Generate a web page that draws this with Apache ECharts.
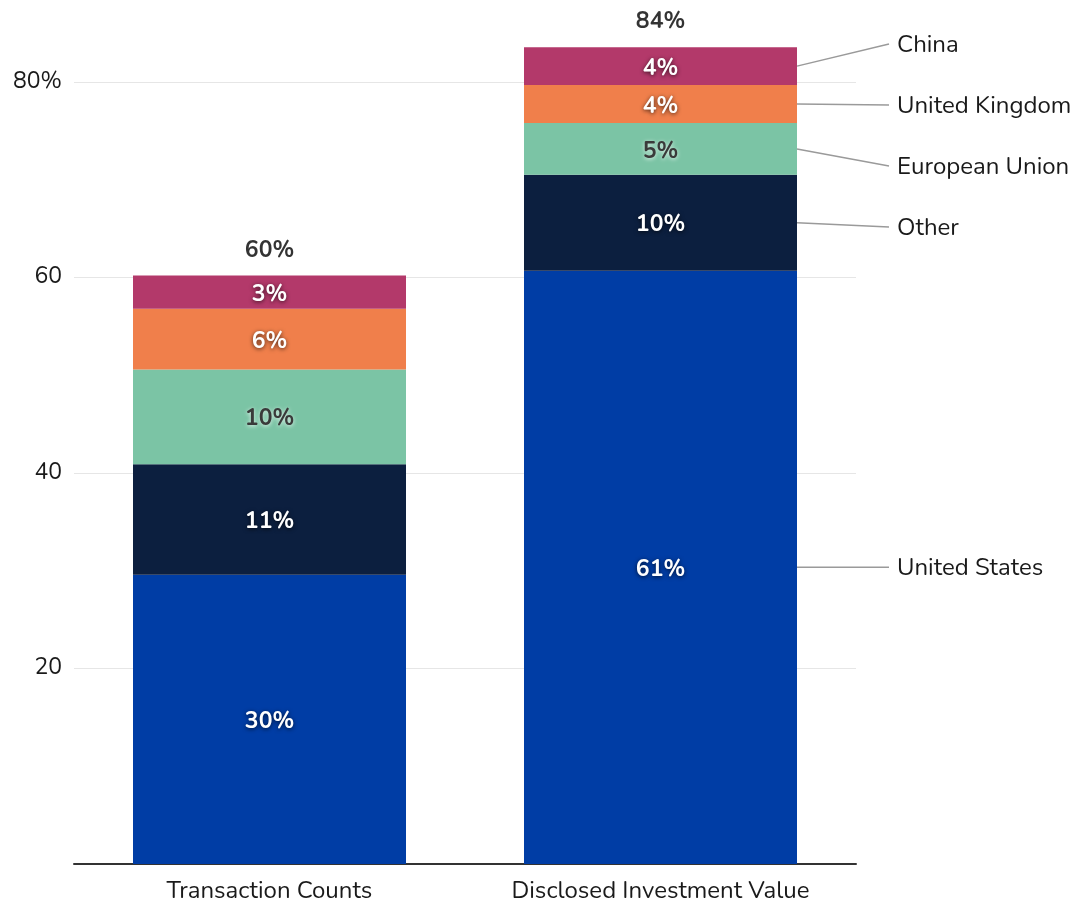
<!DOCTYPE html>
<html>
<head>
<meta charset="utf-8">
<title>Stacked shares by region</title>
<script src="https://cdn.jsdelivr.net/npm/echarts@6/dist/echarts.min.js"></script>
<style>
  html, body { margin: 0; padding: 0; background: #ffffff; }
  #chart { width: 1072px; height: 905px; }
</style>
</head>
<body>
<div id="chart"></div>
<script>
// Categories along the x axis
const categories = ['Transaction Counts', 'Disclosed Investment Value'];

// Region shares (percent), stacked bottom to top
const regionNames = ['United States', 'Other', 'European Union', 'United Kingdom', 'China'];
const unitedStates = [29.6, 60.7];
const other = [11.3, 9.8];
const europeanUnion = [9.7, 5.3];
const unitedKingdom = [6.2, 3.9];
const china = [3.4, 3.85];

// Y axis ticks
const yTickMin = 0;
const yTickMax = 80;
const yTickStep = 20;

const regionValues = [unitedStates, other, europeanUnion, unitedKingdom, china];
const regionColors = ['#003da5', '#0c1f3f', '#7bc4a5', '#f07f4b', '#b3396a'];
const labelColors = ['#ffffff', '#ffffff', '#3a3a3a', '#ffffff', '#ffffff'];
const shadowColors = ['rgba(0,0,0,0.7)', 'rgba(0,0,0,0.7)', 'rgba(255,255,255,0.8)', 'rgba(0,0,0,0.7)', 'rgba(0,0,0,0.7)'];

const FONT = "'Nunito', 'Open Sans', 'Noto Sans', sans-serif";
const FONT_SIZE = 23;
const NAME_FONT_SIZE = 24;
const BAR_WIDTH = 273;

const totals = categories.map((_, i) => regionValues.reduce((s, arr) => s + arr[i], 0));

const chart = echarts.init(document.getElementById('chart'), null, { renderer: 'canvas' });

const barSeries = regionNames.map((name, k) => ({
  name: name,
  type: 'bar',
  stack: 'share',
  barWidth: BAR_WIDTH,
  clip: false,
  data: regionValues[k],
  itemStyle: { color: regionColors[k] },
  label: {
    show: true,
    position: 'inside',
    offset: [0, 3],
    formatter: p => Math.round(p.value) + '%',
    color: labelColors[k],
    fontFamily: FONT,
    fontWeight: 'bold',
    fontSize: FONT_SIZE,
    textShadowColor: shadowColors[k],
    textShadowBlur: 4,
    textShadowOffsetX: 0,
    textShadowOffsetY: 1
  },
  emphasis: { disabled: true }
}));

chart.setOption({
  animation: false,
  grid: { left: 74, right: 216, top: 82, bottom: 41, containLabel: false },
  xAxis: {
    type: 'category',
    data: categories,
    axisTick: { show: false },
    axisLine: { lineStyle: { color: '#333333', width: 2 } },
    axisLabel: { color: '#1a1a1a', fontFamily: FONT, fontSize: NAME_FONT_SIZE, margin: 16 }
  },
  yAxis: {
    type: 'value',
    min: yTickMin,
    max: yTickMax,
    interval: yTickStep,
    axisLine: { show: false },
    axisTick: { show: false },
    splitLine: { lineStyle: { color: '#e6e6e6', width: 1 } },
    axisLabel: {
      color: '#1a1a1a',
      fontFamily: FONT,
      fontSize: FONT_SIZE,
      margin: 12,
      padding: [4, 0, 0, 0],
      formatter: v => (v === 0 ? '' : (v === yTickMax ? v + '%' : String(v)))
    }
  },
  series: barSeries.concat([{
    name: 'Total',
    type: 'scatter',
    symbolSize: 0,
    clip: false,
    silent: true,
    data: totals.map((t, i) => [i, t]),
    label: {
      show: true,
      position: 'top',
      distance: 13,
      formatter: p => Math.round(p.value[1]) + '%',
      color: '#000000',
      fontFamily: FONT,
      fontWeight: 'bold',
      fontSize: FONT_SIZE
    }
  }])
});

// Region names beside the last bar, joined to their segments with leader lines
function spreadLabels(centers, gap) {
  let clusters = centers.map(c => ({ sum: c, n: 1 }));
  const startOf = cl => cl.sum / cl.n - (cl.n - 1) * gap / 2;
  let merged = true;
  while (merged) {
    merged = false;
    for (let i = 0; i < clusters.length - 1; i++) {
      const a = clusters[i], b = clusters[i + 1];
      if (startOf(b) < startOf(a) + a.n * gap) {
        clusters.splice(i, 2, { sum: a.sum + b.sum, n: a.n + b.n });
        merged = true;
        break;
      }
    }
  }
  const out = [];
  clusters.forEach(cl => {
    const s = startOf(cl);
    for (let j = 0; j < cl.n; j++) out.push(s + j * gap);
  });
  return out;
}

const lastIdx = categories.length - 1;
const barRight = chart.convertToPixel({ xAxisIndex: 0 }, lastIdx) + BAR_WIDTH / 2;
let cum = 0;
const segCenters = regionValues.map(arr => {
  const lo = cum;
  cum += arr[lastIdx];
  return chart.convertToPixel({ yAxisIndex: 0 }, (lo + cum) / 2);
});
// order top to bottom for the spreading pass
const order = regionNames.map((_, k) => k).sort((a, b) => segCenters[a] - segCenters[b]);
const placed = spreadLabels(order.map(k => segCenters[k]), 61);
const labelY = [];
order.forEach((k, j) => { labelY[k] = placed[j]; });

const lineEndX = 889;
const textX = 897;
const graphics = [];
regionNames.forEach((name, k) => {
  graphics.push({
    type: 'polyline',
    silent: true,
    shape: { points: [[barRight, segCenters[k]], [lineEndX, labelY[k]]] },
    style: { stroke: '#9a9a9a', lineWidth: 1.5, fill: null }
  });
  graphics.push({
    type: 'text',
    silent: true,
    x: textX,
    y: labelY[k] + 2,
    style: {
      text: name,
      fill: '#1a1a1a',
      font: NAME_FONT_SIZE + 'px ' + FONT,
      verticalAlign: 'middle',
      align: 'left'
    }
  });
});
chart.setOption({ graphic: graphics });
</script>
</body>
</html>
